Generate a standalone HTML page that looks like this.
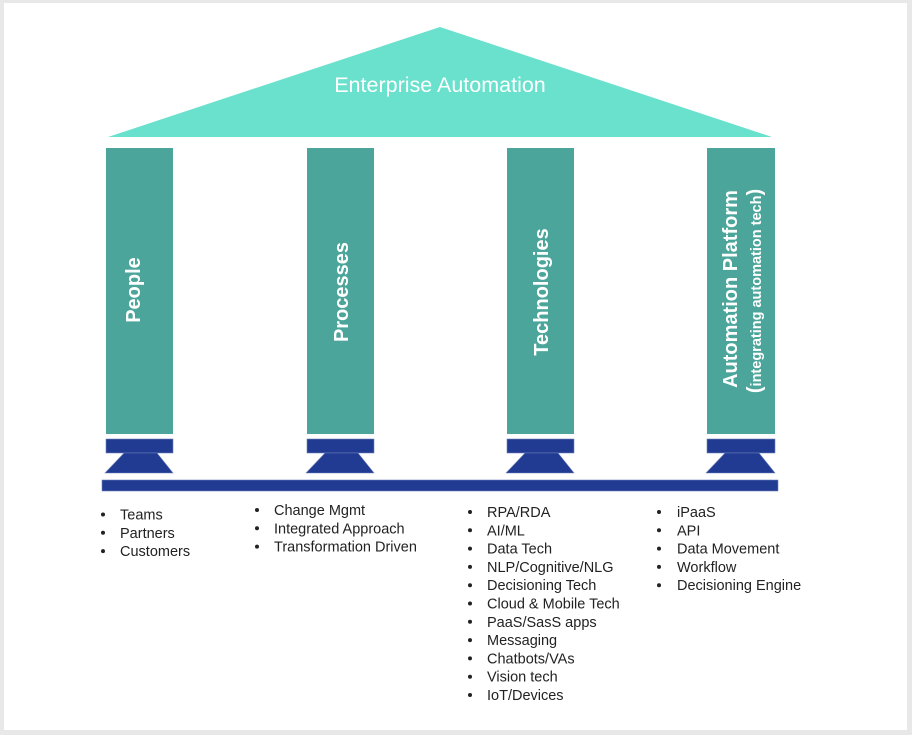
<!DOCTYPE html>
<html>
<head>
<meta charset="utf-8">
<style>
  html, body { margin:0; padding:0; }
  body { width:912px; height:735px; background:#e8e8e8; overflow:hidden; }
  svg { display:block; }
  .lst { font-family:"Liberation Sans", Arial, sans-serif; font-size:14.5px; fill:#222; }
  .pl { font-family:"Liberation Sans", Arial, sans-serif; font-weight:bold; font-size:20px; fill:#fff; }
</style>
</head>
<body>
<svg width="912" height="735" viewBox="0 0 912 735" xmlns="http://www.w3.org/2000/svg">
  <rect x="0" y="0" width="912" height="735" fill="#e8e8e8"/>
  <rect x="4" y="3" width="903" height="727" fill="#ffffff"/>

  <!-- Roof -->
  <polygon points="108,137 440,27 772,137" fill="#69e1cd"/>
  <text x="440" y="92" text-anchor="middle" font-family="'Liberation Sans', Arial, sans-serif" font-size="21.5" fill="#ffffff">Enterprise Automation</text>

  <!-- Pillars -->
  <rect x="106" y="148" width="67" height="286" fill="#4ba59a"/>
  <rect x="307" y="148" width="67" height="286" fill="#4ba59a"/>
  <rect x="507" y="148" width="67" height="286" fill="#4ba59a"/>
  <rect x="707" y="148" width="68" height="286" fill="#4ba59a"/>

  <!-- Pillar labels -->
  <text class="pl" transform="translate(140,290) rotate(-90)" text-anchor="middle">People</text>
  <text class="pl" transform="translate(348,292) rotate(-90)" text-anchor="middle">Processes</text>
  <text class="pl" transform="translate(548,292) rotate(-90)" text-anchor="middle">Technologies</text>
  <text class="pl" transform="translate(737,289) rotate(-90)" text-anchor="middle">Automation Platform</text>
  <text transform="translate(761,291) rotate(-90)" text-anchor="middle" font-family="'Liberation Sans', Arial, sans-serif" font-weight="bold" fill="#fff"><tspan font-size="20">(</tspan><tspan font-size="14.5">integrating automation tech</tspan><tspan font-size="20">)</tspan></text>

  <!-- Pillar bases -->
  <g fill="#213b92" stroke="#6f82bb" stroke-width="0.6">
    <rect x="106" y="439" width="67" height="14"/>
    <polygon points="124,453 157,453 173,473 105,473"/>
    <rect x="307" y="439" width="67" height="14"/>
    <polygon points="325,453 358,453 374,473 306,473"/>
    <rect x="507" y="439" width="67" height="14"/>
    <polygon points="525,453 558,453 574,473 506,473"/>
    <rect x="707" y="439" width="68" height="14"/>
    <polygon points="725,453 759,453 775,473 706,473"/>
    <rect x="102" y="480" width="676" height="11"/>
  </g>

  <!-- Lists -->
  <g fill="#222">
    <circle cx="103" cy="514.5" r="2"/>
    <circle cx="103" cy="532.8" r="2"/>
    <circle cx="103" cy="551.1" r="2"/>

    <circle cx="257" cy="510" r="2"/>
    <circle cx="257" cy="528.3" r="2"/>
    <circle cx="257" cy="546.6" r="2"/>

    <circle cx="470" cy="512" r="2"/>
    <circle cx="470" cy="530.3" r="2"/>
    <circle cx="470" cy="548.6" r="2"/>
    <circle cx="470" cy="566.9" r="2"/>
    <circle cx="470" cy="585.2" r="2"/>
    <circle cx="470" cy="603.5" r="2"/>
    <circle cx="470" cy="621.8" r="2"/>
    <circle cx="470" cy="640.1" r="2"/>
    <circle cx="470" cy="658.4" r="2"/>
    <circle cx="470" cy="676.7" r="2"/>
    <circle cx="470" cy="695" r="2"/>

    <circle cx="659" cy="512" r="2"/>
    <circle cx="659" cy="530.3" r="2"/>
    <circle cx="659" cy="548.6" r="2"/>
    <circle cx="659" cy="566.9" r="2"/>
    <circle cx="659" cy="585.2" r="2"/>
  </g>

  <g class="lst">
    <text x="120" y="519.5">Teams</text>
    <text x="120" y="537.8">Partners</text>
    <text x="120" y="556.1">Customers</text>

    <text x="274" y="515">Change Mgmt</text>
    <text x="274" y="533.3">Integrated Approach</text>
    <text x="274" y="551.6">Transformation Driven</text>

    <text x="487" y="517">RPA/RDA</text>
    <text x="487" y="535.3">AI/ML</text>
    <text x="487" y="553.6">Data Tech</text>
    <text x="487" y="571.9">NLP/Cognitive/NLG</text>
    <text x="487" y="590.2">Decisioning Tech</text>
    <text x="487" y="608.5">Cloud &amp; Mobile Tech</text>
    <text x="487" y="626.8">PaaS/SasS apps</text>
    <text x="487" y="645.1">Messaging</text>
    <text x="487" y="663.4">Chatbots/VAs</text>
    <text x="487" y="681.7">Vision tech</text>
    <text x="487" y="700">IoT/Devices</text>

    <text x="677" y="517">iPaaS</text>
    <text x="677" y="535.3">API</text>
    <text x="677" y="553.6">Data Movement</text>
    <text x="677" y="571.9">Workflow</text>
    <text x="677" y="590.2">Decisioning Engine</text>
  </g>
</svg>
</body>
</html>
